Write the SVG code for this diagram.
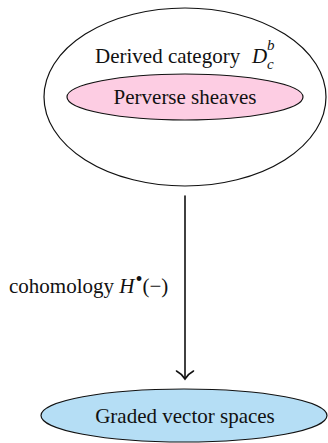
<svg xmlns="http://www.w3.org/2000/svg" width="328" height="443" viewBox="0 0 328 443">
  <style>
    .lbl { font-family: "Liberation Serif", "Times New Roman", serif; font-size: 21px; fill: #111; }
    .mi { font-style: italic; }
    .sm { font-size: 15px; }
    .outline { fill: none; stroke: #111; stroke-width: 1.2; }
    .edge { fill: none; stroke: #111; stroke-width: 1.6; stroke-linecap: round; }
  </style>
  <rect width="328" height="443" fill="#ffffff"/>

  <g id="derived-category">
    <ellipse class="outline" cx="185" cy="97" rx="141" ry="89"/>
    <text class="lbl" x="95" y="63">Derived category <tspan class="mi" x="252">D</tspan><tspan class="mi sm" x="267" y="50">b</tspan><tspan class="mi sm" x="267" y="69">c</tspan></text>
  </g>

  <g id="perverse-sheaves">
    <ellipse cx="185" cy="97" rx="118" ry="23" fill="#fdcde3" stroke="#111" stroke-width="1.2"/>
    <text class="lbl" x="185" y="104" text-anchor="middle">Perverse sheaves</text>
  </g>

  <g id="graded-vector-spaces">
    <ellipse cx="184" cy="415.5" rx="143" ry="26.5" fill="#b5def5" stroke="#111" stroke-width="1.2"/>
    <text class="lbl" x="185" y="423" text-anchor="middle">Graded vector spaces</text>
  </g>

  <g id="connectors">
    <line class="edge" x1="185" y1="196" x2="185" y2="378.5"/>
    <path class="edge" d="M176.5,371 Q182,374 185,379 Q188,374 193.5,371"/>
    <text class="lbl" x="9" y="293">cohomology <tspan class="mi">H</tspan><tspan font-size="20" dx="1" dy="-7">•</tspan><tspan dy="7">(−)</tspan></text>
  </g>
</svg>
